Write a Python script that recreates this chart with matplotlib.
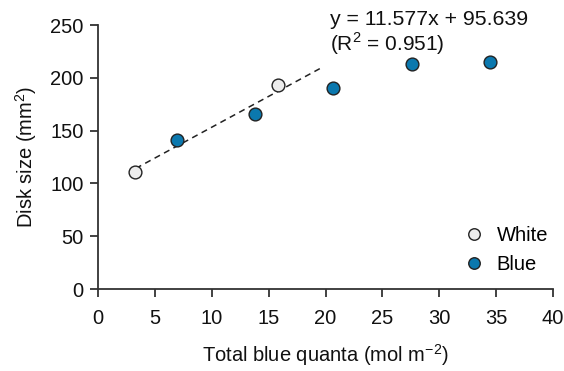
import numpy as np
import matplotlib
matplotlib.use('Agg')
import matplotlib.pyplot as plt

# Data
white_x = [3.2, 15.8]
white_y = [110.8, 193.5]
blue_x = [6.9, 13.8, 20.7, 27.6, 34.5]
blue_y = [141.4, 165.7, 190.3, 213.4, 215.0]

# points used for the dashed trend line and its drawn range
fit_x = [3.2, 6.9, 13.8, 15.8]
fit_y = [110.8, 141.4, 165.7, 193.5]
fit_range = [3.3, 19.7]

equation = 'y = 11.577x + 95.639'
r2_text = '(R$^{2}$ = 0.951)'

plt.rcParams['font.family'] = ['Liberation Sans', 'DejaVu Sans']
plt.rcParams['font.size'] = 14.5
plt.rcParams['mathtext.fontset'] = 'custom'
plt.rcParams['mathtext.rm'] = 'Liberation Sans'

fig = plt.figure(figsize=(5.64, 3.71), dpi=100)
ax = fig.add_axes([0.1743, 0.221, 0.8057, 0.7116])

spine_col = '#333333'
blue_col = '#0b78ae'
white_col = '#ececec'

# trend line
slope, intercept = np.polyfit(fit_x, fit_y, 1)
lx = np.array(fit_range)
ax.plot(lx, slope * lx + intercept, ls=(0, (4, 3)), color='#222222', lw=1.1, zorder=2)

ax.plot(white_x, white_y, 'o', ms=9.2, mfc=white_col, mec='#222222', mew=1.0,
        label='White', zorder=3, clip_on=False)
ax.plot(blue_x, blue_y, 'o', ms=9.2, mfc=blue_col, mec='#222222', mew=1.0,
        label='Blue', zorder=3, clip_on=False)

ax.set_xlim(0, 40)
ax.set_ylim(0, 250)
ax.set_xticks(range(0, 41, 5))
ax.set_yticks(range(0, 251, 50))

for s in ['top', 'right']:
    ax.spines[s].set_visible(False)
for s in ['left', 'bottom']:
    ax.spines[s].set_color(spine_col)
    ax.spines[s].set_linewidth(1.3)
ax.tick_params(direction='out', length=5.5, width=1.3, color=spine_col, pad=5,
               labelcolor='#111111')
ax.tick_params(axis='x', pad=9)

ax.set_xlabel('Total blue quanta (mol m$^{\u22122}$)', labelpad=10, color='#111111')
ax.set_ylabel('Disk size (mm$^{2}$)', labelpad=8, color='#111111')

ax.text(20.4, 250, equation, ha='left', va='baseline', color='#111111',
        fontsize=15.3, clip_on=False)
ax.text(20.4, 226, r2_text, ha='left', va='baseline', color='#111111',
        fontsize=15, clip_on=False)

ax.legend(loc='center left', bbox_to_anchor=(0.792, 0.148), frameon=False,
          handlelength=0.8, handletextpad=0.7, labelspacing=0.5, markerscale=0.9,
          borderaxespad=0)

fig.savefig('out.png', dpi=100)
